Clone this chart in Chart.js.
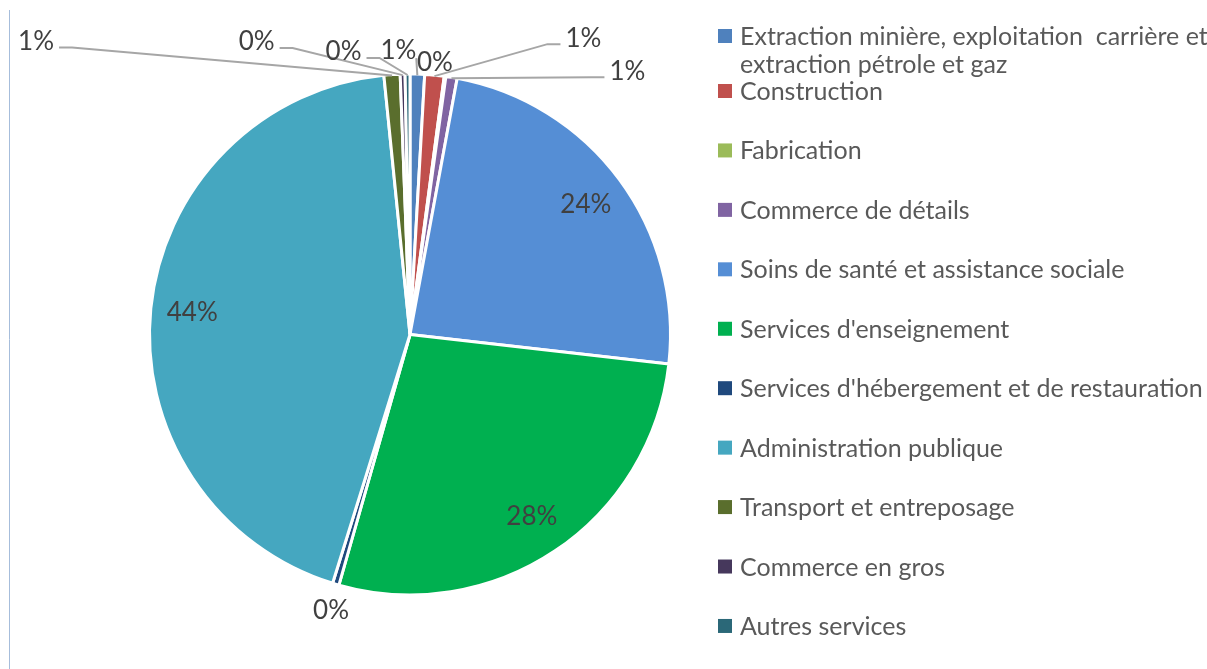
<!DOCTYPE html>
<html>
<head>
<meta charset="utf-8">
<script src="https://cdn.jsdelivr.net/npm/chart.js@4/dist/chart.umd.min.js"></script>
<style>
  html, body { margin: 0; padding: 0; background: #fff; }
  #box { width: 1207px; height: 669px; position: relative; }
</style>
</head>
<body>
<div id="box"><canvas id="secteursChart"></canvas></div>
<script>
// Catégories et parts (en %)
var categories = [
    'Extraction minière, exploitation  carrière et extraction pétrole et gaz',
    'Construction',
    'Fabrication',
    'Commerce de détails',
    'Soins de santé et assistance sociale',
    "Services d'enseignement",
    "Services d'hébergement et de restauration",
    'Administration publique',
    'Transport et entreposage',
    'Commerce en gros',
    'Autres services'
];
var values = [0.9, 1.2, 0.1, 0.7, 23.9, 27.6, 0.4, 43.6, 1.0, 0.3, 0.3];

var colors = ['#4f81bd', '#c0504d', '#9bbb59', '#8064a2', '#558ed5', '#00b050',
              '#1f497d', '#45a7c0', '#5a6e2d', '#46385c', '#2b6878'];

// position des étiquettes extérieures par rapport au bord de la part [dx, dy, ligne de rappel]
var callouts = [
    [-19, -24, true],
    [149, -38, true],
    [-10, -15, false],
    [176, -7, true],
    null,
    null,
    [-5, 27, false],
    null,
    [-356, -34, true],
    [-146, -33, true],
    [-64, -23, true]
];

var total = values.reduce(function (a, b) { return a + b; }, 0);

// Étiquettes de pourcentage
var pieLabels = {
    id: 'pieLabels',
    afterDatasetsDraw: function (chart) {
        var ctx = chart.ctx;
        var arcs = chart.getDatasetMeta(0).data;
        ctx.save();
        ctx.font = '26px Lato';
        ctx.fillStyle = '#404040';
        ctx.strokeStyle = '#a6a6a6';
        ctx.lineWidth = 2;
        ctx.textAlign = 'center';
        ctx.textBaseline = 'middle';
        arcs.forEach(function (arc, i) {
            var p = arc.getProps(['x', 'y', 'startAngle', 'endAngle', 'outerRadius'], true);
            var mid = (p.startAngle + p.endAngle) / 2;
            var text = Math.round(values[i] / total * 100) + '%';
            var c = callouts[i];
            if (!c) {
                var r = p.outerRadius * 0.84;
                ctx.fillText(text, p.x + Math.cos(mid) * r, p.y + Math.sin(mid) * r);
                return;
            }
            var ax = p.x + Math.cos(mid) * (p.outerRadius - 1);
            var ay = p.y + Math.sin(mid) * (p.outerRadius - 1);
            var lx = ax + c[0], ly = ay + c[1];
            var w = ctx.measureText(text).width;
            if (c[2]) {
                ctx.beginPath();
                if (Math.abs(c[0]) < w) {
                    ctx.moveTo(lx + w / 2, ly + 7);
                    ctx.lineTo(ax, ay);
                } else {
                    var side = c[0] < 0 ? 1 : -1;
                    var sx = lx + side * (w / 2 + 5), sy = ly + 6;
                    ctx.moveTo(sx, sy);
                    ctx.lineTo(sx + side * 13, sy);
                    ctx.lineTo(ax, ay);
                }
                ctx.stroke();
            }
            ctx.fillText(text, lx, ly);
        });
        ctx.restore();
    }
};

// Légende dessinée à la main (la première entrée passe sur deux lignes)
var sideLegend = {
    id: 'sideLegend',
    afterDraw: function (chart) {
        var ctx = chart.ctx;
        var boxX = 718, textX = 740, maxW = 476;
        ctx.save();
        ctx.font = '25px Lato';
        ctx.textBaseline = 'alphabetic';
        ctx.textAlign = 'left';
        var y = 45;
        categories.forEach(function (label, i) {
            var words = label.split(' ');
            var lines = [], line = '';
            words.forEach(function (wd) {
                var test = line === '' ? wd : line + ' ' + wd;
                if (line !== '' && ctx.measureText(test).width > maxW) {
                    lines.push(line);
                    line = wd;
                } else {
                    line = test;
                }
            });
            lines.push(line);

            ctx.fillStyle = colors[i];
            ctx.fillRect(boxX, y - 16, 14, 14);
            ctx.fillStyle = '#595959';
            lines.forEach(function (l, k) {
                ctx.fillText(l, textX, y + k * 28);
            });
            var last = y + (lines.length - 1) * 28;
            y = last + (lines.length > 1 ? 27 : 59.44);
        });
        // bord gauche du cadre
        ctx.strokeStyle = '#a6bddb';
        ctx.lineWidth = 1;
        ctx.beginPath();
        ctx.moveTo(9.5, 10);
        ctx.lineTo(9.5, chart.height);
        ctx.stroke();
        ctx.restore();
    }
};

var ctx = document.getElementById('secteursChart').getContext('2d');
var secteursChart = new Chart(ctx, {
    type: 'pie',
    data: {
        labels: categories,
        datasets: [{
            data: values,
            backgroundColor: colors,
            borderColor: '#ffffff',
            borderWidth: 3
        }]
    },
    options: {
        responsive: true,
        maintainAspectRatio: false,
        animation: false,
        layout: {
            padding: { left: 148, top: 72, right: 535, bottom: 72 }
        },
        plugins: {
            legend: { display: false },
            tooltip: { enabled: false }
        }
    },
    plugins: [pieLabels, sideLegend]
});
</script>
</body>
</html>
